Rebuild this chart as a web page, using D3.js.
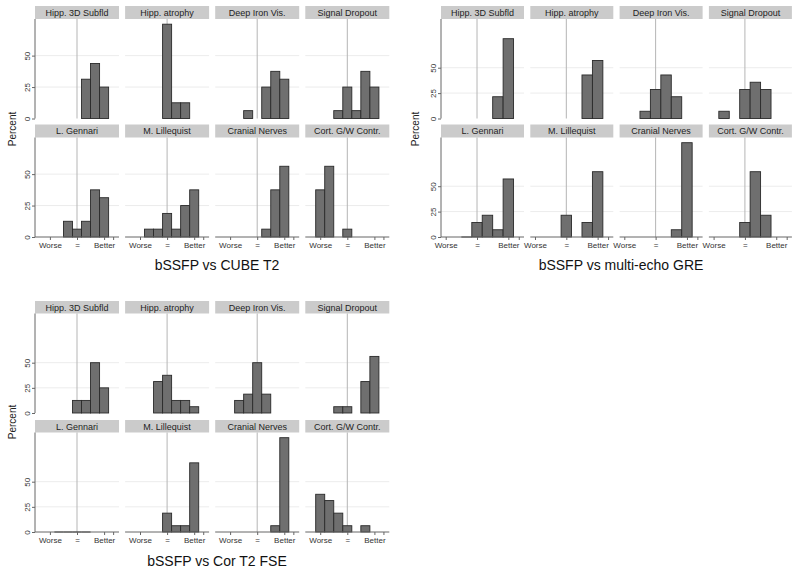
<!DOCTYPE html>
<html><head><meta charset="utf-8">
<script src="https://cdn.jsdelivr.net/npm/d3@7"></script>
<style>body{margin:0;background:#fff}svg{display:block;font-family:"Liberation Sans",Arial,Helvetica,sans-serif}</style>
</head><body><svg id="c" width="800" height="573"></svg>
<script>
// ---- data ----
const bins = [-3, -2, -1, 0, 1, 2, 3];
const facetNames = ["Hipp. 3D Subfld", "Hipp. atrophy", "Deep Iron Vis.", "Signal Dropout",
                    "L. Gennari", "M. Lillequist", "Cranial Nerves", "Cort. G/W Contr."];
const panelTitles = ["bSSFP vs CUBE T2", "bSSFP vs multi-echo GRE", "bSSFP vs Cor T2 FSE"];
const N = null;
const cubeT2 = [
  [N, N, N, N, 31.25, 43.75, 25],
  [N, N, N, 75, 12.5, 12.5, N],
  [N, N, 6.25, N, 25, 37.5, 31.25],
  [N, N, 6.25, 25, 6.25, 37.5, 25],
  [N, N, 12.5, 6.25, 12.5, 37.5, 31.25],
  [N, 6.25, 6.25, 18.75, 6.25, 25, 37.5],
  [N, N, N, N, 6.25, 37.5, 56.25],
  [37.5, 56.25, N, 6.25, N, N, N]
];
const multiEchoGRE = [
  [N, N, N, N, N, 21.43, 78.57],
  [N, N, N, N, N, 42.86, 57.14],
  [N, N, 7.14, 28.57, 42.86, 21.43, N],
  [N, 7.14, N, 28.57, 35.71, 28.57, N],
  [N, N, 0, 14.29, 21.43, 7.14, 57.14],
  [N, N, N, 21.43, N, 14.29, 64.29],
  [N, N, N, N, N, 7.14, 92.86],
  [N, N, N, 14.29, 64.29, 21.43, N]
];
const corT2FSE = [
  [N, N, N, 12.5, 12.5, 50, 25],
  [N, N, 31.25, 37.5, 12.5, 12.5, 6.25],
  [N, 12.5, 18.75, 50, 18.75, N, N],
  [N, N, 6.25, 6.25, N, 31.25, 56.25],
  [N, 0, 0, 0, 0, N, N],
  [N, N, N, 18.75, 6.25, 6.25, 68.75],
  [N, N, N, N, N, 6.25, 93.75],
  [37.5, 31.25, 18.75, 6.25, N, 6.25, N]
];
const yTicks = [0, 25, 50];
const xTickValues = [-3, 0, 3, 4];
const xTickLabels = ["Worse", "=", "Better", ""];
const yTitle = "Percent";

// ---- layout ----
const graphs = [
  {values: cubeT2, title: panelTitles[0], left: 35, colStep: 90.1, plotW: 84, top: 6, rowStep: 118.5, stripH: 13, plotH: 99.5,
   xDomain: [-4.65, 4.65], titleX: 217, titleY: 270, yLabX: 16, yLabY: 129},
  {values: multiEchoGRE, title: panelTitles[1], left: 441, colStep: 89.3, plotW: 83, top: 6, rowStep: 118.5, stripH: 13, plotH: 99.5,
   xDomain: [-3.45, 4.5], titleX: 621, titleY: 270, yLabX: 419, yLabY: 129},
  {values: corT2FSE, title: panelTitles[2], left: 35, colStep: 90.1, plotW: 84, top: 301, rowStep: 119, stripH: 12.5, plotH: 99.5,
   xDomain: [-4.65, 4.65], titleX: 217, titleY: 566, yLabX: 16, yLabY: 422}
];

const svg = d3.select("#c");
svg.append("rect").attr("width", 800).attr("height", 573).attr("fill", "#fff");

graphs.forEach(g => {
  const gg = svg.append("g");
  const maxV = d3.max(g.values.flat().filter(v => v != null));
  const yMax = maxV * 1.055;

  g.values.forEach((vals, i) => {
    const row = Math.floor(i / 4), col = i % 4;
    const fx = g.left + col * g.colStep;
    const fy = g.top + row * g.rowStep;
    const pTop = fy + g.stripH, pBot = pTop + g.plotH;
    const x = d3.scaleLinear().domain(g.xDomain).range([fx, fx + g.plotW]);
    const y = d3.scaleLinear().domain([0, yMax]).range([pBot, pTop]);
    const f = gg.append("g");

    // strip
    f.append("rect").attr("x", fx).attr("y", fy).attr("width", g.plotW).attr("height", g.stripH)
      .attr("fill", "#cbcbcb");
    f.append("text").attr("x", fx + g.plotW / 2).attr("y", fy + g.stripH / 2 + 3.3)
      .attr("text-anchor", "middle").attr("font-size", 9).attr("fill", "#1e1e1e").text(facetNames[i]);

    // gridlines
    f.selectAll(".grid").data(yTicks.filter(t => t > 0)).join("line")
      .attr("x1", fx).attr("x2", fx + g.plotW).attr("y1", d => y(d)).attr("y2", d => y(d))
      .attr("stroke", "#ececec").attr("stroke-width", 1);

    // reference line at "="
    f.append("line").attr("x1", x(0)).attr("x2", x(0)).attr("y1", pTop).attr("y2", pBot)
      .attr("stroke", "#b5b5b5").attr("stroke-width", 1);

    // bars
    const bd = bins.map((b, k) => ({b, v: vals[k]})).filter(d => d.v != null);
    f.selectAll(".bar").data(bd.filter(d => d.v > 0)).join("rect")
      .attr("x", d => x(d.b - 0.5)).attr("width", d => x(d.b + 0.5) - x(d.b - 0.5))
      .attr("y", d => y(d.v)).attr("height", d => y(0) - y(d.v))
      .attr("fill", "#6f6f6f").attr("stroke", "#2a2a2a").attr("stroke-width", 0.9);
    f.selectAll(".zbar").data(bd.filter(d => d.v === 0)).join("line")
      .attr("x1", d => x(d.b - 0.5)).attr("x2", d => x(d.b + 0.5)).attr("y1", y(0)).attr("y2", y(0))
      .attr("stroke", "#2a2a2a").attr("stroke-width", 1);

    // y axis on first column
    if (col === 0) {
      const ya = f.append("g").attr("transform", `translate(${fx},0)`)
        .call(d3.axisLeft(y).tickValues(yTicks).tickSize(3).tickFormat(d3.format("d")));
      ya.select(".domain").attr("stroke", "#666").attr("d", `M0,${pTop}V${pBot}`);
      ya.selectAll(".tick line").attr("stroke", "#666");
      ya.selectAll(".tick text").attr("font-size", 8).attr("fill", "#333")
        .attr("transform", "rotate(-90)").attr("text-anchor", "middle")
        .attr("x", 0).attr("y", -5).attr("dy", 0)
        .each(function() {
          const t = d3.select(this.parentNode).attr("transform");
          const ty = +t.match(/translate\([^,]+,([^)]+)\)/)[1];
          d3.select(this).attr("transform", `rotate(-90)`).attr("x", 0).attr("y", -5);
        });
      ya.attr("font-family", null);
    }
    // x axis on bottom row
    if (row === 1) {
      const xa = f.append("g").attr("transform", `translate(0,${pBot})`)
        .call(d3.axisBottom(x).tickValues(xTickValues).tickSize(3)
          .tickFormat((d, k) => xTickLabels[k]));
      xa.select(".domain").attr("stroke", "#666").attr("d", `M${fx},0H${fx + g.plotW}`);
      xa.selectAll(".tick line").attr("stroke", "#666");
      xa.selectAll(".tick text").attr("font-size", 8).attr("fill", "#333").attr("y", 5).attr("dy", "0.71em");
      xa.attr("font-family", null);
    }
  });

  // y title
  gg.append("text").attr("transform", `translate(${g.yLabX},${g.yLabY}) rotate(-90)`)
    .attr("text-anchor", "middle").attr("font-size", 10).attr("fill", "#222").text(yTitle);
  // panel title
  gg.append("text").attr("x", g.titleX).attr("y", g.titleY).attr("text-anchor", "middle")
    .attr("font-size", 14).attr("fill", "#111").text(g.title);
});
</script></body></html>
